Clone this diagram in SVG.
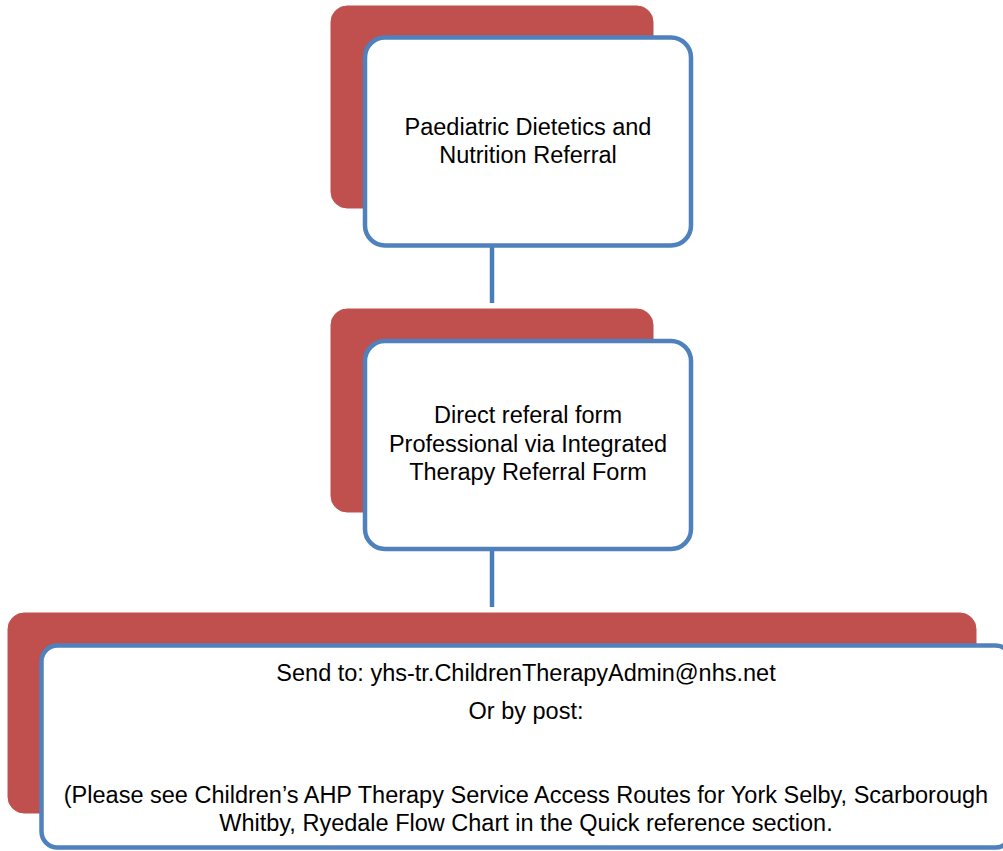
<svg xmlns="http://www.w3.org/2000/svg" width="1003" height="851" viewBox="0 0 1003 851">
  <style>
    .back { fill: #C0504D; stroke: #C0504D; stroke-width: 1; }
    .front { fill: #FFFFFF; stroke: #4F81BD; stroke-width: 4.5; }
    .conn { stroke: #4A7EBB; stroke-width: 4.5; fill: none; }
    .lbl { font-family: "Liberation Sans", Arial, sans-serif; font-size: 23.5px; fill: #000000; text-anchor: middle; }
  </style>
  <rect width="1003" height="851" fill="#FFFFFF"/>
  <g id="connectors">
    <line class="conn" x1="492" y1="247" x2="492" y2="303"/>
    <line class="conn" x1="492" y1="551" x2="492" y2="607"/>
  </g>
  <g id="node1">
    <rect class="back" x="331" y="6" width="322" height="202" rx="16" ry="16"/>
    <rect class="front" x="365" y="37.5" width="326" height="208" rx="20" ry="20"/>
    <text class="lbl" x="528" y="135">Paediatric Dietetics and</text>
    <text class="lbl" x="528" y="163">Nutrition Referral</text>
  </g>
  <g id="node2">
    <rect class="back" x="331" y="309" width="322" height="203" rx="16" ry="16"/>
    <rect class="front" x="365" y="341" width="326" height="208" rx="20" ry="20"/>
    <text class="lbl" x="528" y="423">Direct referal form</text>
    <text class="lbl" x="528" y="452">Professional via Integrated</text>
    <text class="lbl" x="528" y="480">Therapy Referral Form</text>
  </g>
  <g id="node3">
    <rect class="back" x="8" y="613" width="968" height="200" rx="16" ry="16"/>
    <rect class="front" x="41.5" y="645.5" width="970" height="202" rx="16" ry="16"/>
    <text class="lbl" x="526" y="681">Send to: yhs-tr.ChildrenTherapyAdmin@nhs.net</text>
    <text class="lbl" x="526" y="719">Or by post:</text>
    <text class="lbl" x="526" y="803">(Please see Children’s AHP Therapy Service Access Routes for York Selby, Scarborough</text>
    <text class="lbl" x="526" y="831">Whitby, Ryedale Flow Chart in the Quick reference section.</text>
  </g>
</svg>
